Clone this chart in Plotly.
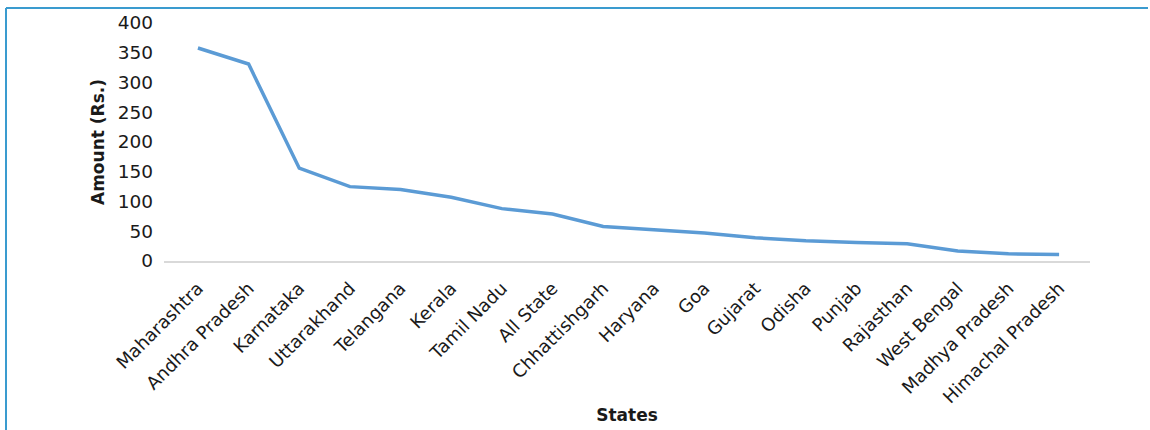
import plotly.graph_objects as go

states = [
    "Maharashtra", "Andhra Pradesh", "Karnataka", "Uttarakhand", "Telangana",
    "Kerala", "Tamil Nadu", "All State", "Chhattishgarh", "Haryana", "Goa",
    "Gujarat", "Odisha", "Punjab", "Rajasthan", "West Bengal",
    "Madhya Pradesh", "Himachal Pradesh",
]
amount = [358, 331, 156, 125, 120, 107, 88, 79, 58, 52, 47, 39, 34, 31, 29, 17, 12, 11]
y_ticks = [0, 50, 100, 150, 200, 250, 300, 350, 400]

W, H = 1150, 430
L, R, T, B = 164, 60, 23, 169

fig = go.Figure()
fig.add_trace(go.Scatter(
    x=list(range(len(states))), y=amount, mode="lines",
    line=dict(color="#5b9bd5", width=3.5),
    hoverinfo="skip", showlegend=False,
))

pw = W - L - R
ph = H - T - B


def px_to_paper_x(px):
    return (px - L) / pw


def px_to_paper_y(py):
    return (H - B - py) / ph


border = "#3a9bcf"
fig.add_shape(type="line", xref="paper", yref="paper",
              x0=px_to_paper_x(6), x1=px_to_paper_x(1148),
              y0=px_to_paper_y(8), y1=px_to_paper_y(8),
              line=dict(color=border, width=2))
fig.add_shape(type="line", xref="paper", yref="paper",
              x0=px_to_paper_x(6), x1=px_to_paper_x(6),
              y0=px_to_paper_y(8), y1=px_to_paper_y(432),
              line=dict(color=border, width=2))

font_main = "'DejaVu Sans', sans-serif"

fig.update_layout(
    width=W, height=H,
    margin=dict(l=L, r=R, t=T, b=B, pad=0),
    paper_bgcolor="white", plot_bgcolor="white",
    font=dict(family=font_main, color="#1a1a1a", size=17),
    xaxis=dict(
        tickmode="array", tickvals=list(range(len(states))), ticktext=states,
        range=[-0.67, 17.61], tickangle=-45, automargin=False,
        showgrid=False, zeroline=False,
        showline=True, linecolor="#d9d9d9", linewidth=1.5,
        ticks="", ticklabelstandoff=8,
        tickfont=dict(size=18, family=font_main, color="#1a1a1a"),
        title=dict(text="<b>States</b>", font=dict(size=17), standoff=3),
    ),
    yaxis=dict(
        range=[0, 400], tickmode="array", tickvals=y_ticks, automargin=False,
        showgrid=False, zeroline=False, showline=False,
        ticks="", ticklabelstandoff=10,
        tickfont=dict(size=18.5, family=font_main, color="#1a1a1a"),
        title=dict(text="<b>Amount (Rs.)</b>", font=dict(size=17), standoff=8),
    ),
)

fig.write_html("out.html")
